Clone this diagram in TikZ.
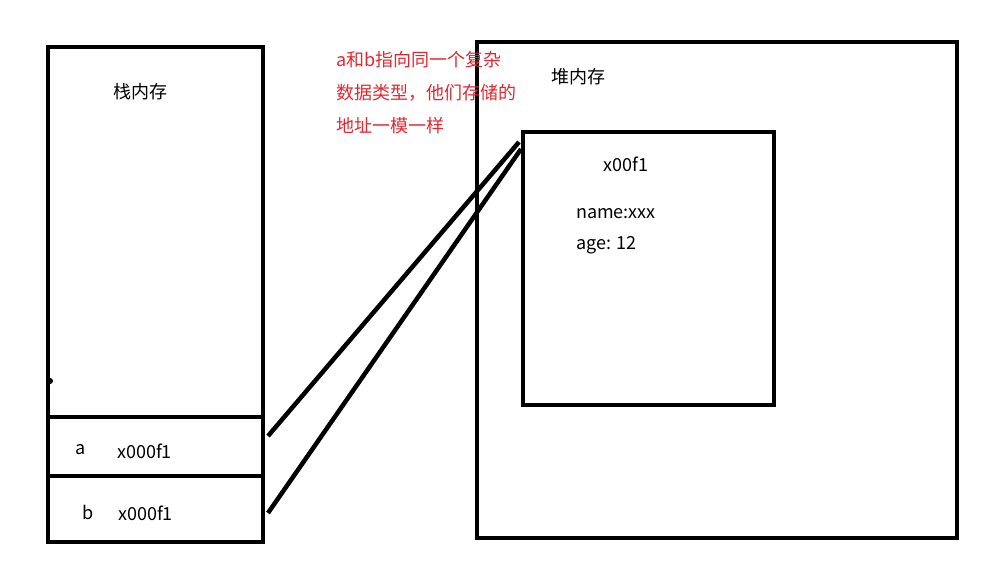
\documentclass[tikz,border=0pt]{standalone}
\usepackage{fontspec}
\setmainfont{Noto Sans CJK SC}
\usetikzlibrary{calc}
\definecolor{note}{RGB}{228,38,48}
\begin{document}
\begin{tikzpicture}[x=1pt,y=1pt,
  box/.style={draw,line width=4pt,inner sep=0pt},
  lbl/.style={inner sep=0pt,font=\fontsize{18}{21}\selectfont},
  red/.style={lbl,text=note,anchor=west},
  link/.style={line width=4.5pt}]
\useasboundingbox (0,0) rectangle (998,-587);
% stack
\node[box,minimum width=215pt,minimum height=495pt] (stack) at (155.5,-294.5) {};
\node[box,minimum width=215pt,minimum height=59pt] (rowA) at (155.5,-446.5) {};
\node[box,minimum width=215pt,minimum height=66pt] (rowB) at (155.5,-509) {};
\fill (50,-381) circle (3pt) coordinate (dot);
\node[lbl] (stackT) at (140,-92) {栈内存};
\node[lbl] (aT) at (81,-450) {a};
\node[lbl,anchor=west] (aV) at (117,-451) {x000f1};
\node[lbl] (bT) at (88,-512) {b};
\node[lbl,anchor=west] (bV) at (118,-513) {x000f1};
% heap
\node[box,minimum width=480pt,minimum height=496pt] (heap) at (717,-290) {};
\node[lbl] (heapT) at (578,-77) {堆内存};
\node[box,minimum width=251pt,minimum height=273pt] (obj) at (648.5,-268.5) {};
\node[lbl] (addr) at (626,-164) {x00f1};
\node[lbl,anchor=west] (nm) at (576,-214) {name:xxx};
\node[lbl,anchor=west] (ag) at (576,-245) {age: 12};
% note
\node[red] (n1) at (336,-60) {a和b指向同一个复杂};
\node[red] (n2) at (336,-93) {数据类型，他们存储的};
\node[red] (n3) at (336,-126) {地址一模一样};
% links
\coordinate (sa) at ($(rowA.east)+(3,10.5)$);
\coordinate (sb) at ($(rowB.east)+(3,-4)$);
\coordinate (ea) at ($(obj.north west)+(-2,-12)$);
\coordinate (eb) at ($(obj.north west)+(0,-19)$);
\draw[link] (sa) -- (ea);
\draw[link] (sb) -- (eb);
\end{tikzpicture}
\end{document}
